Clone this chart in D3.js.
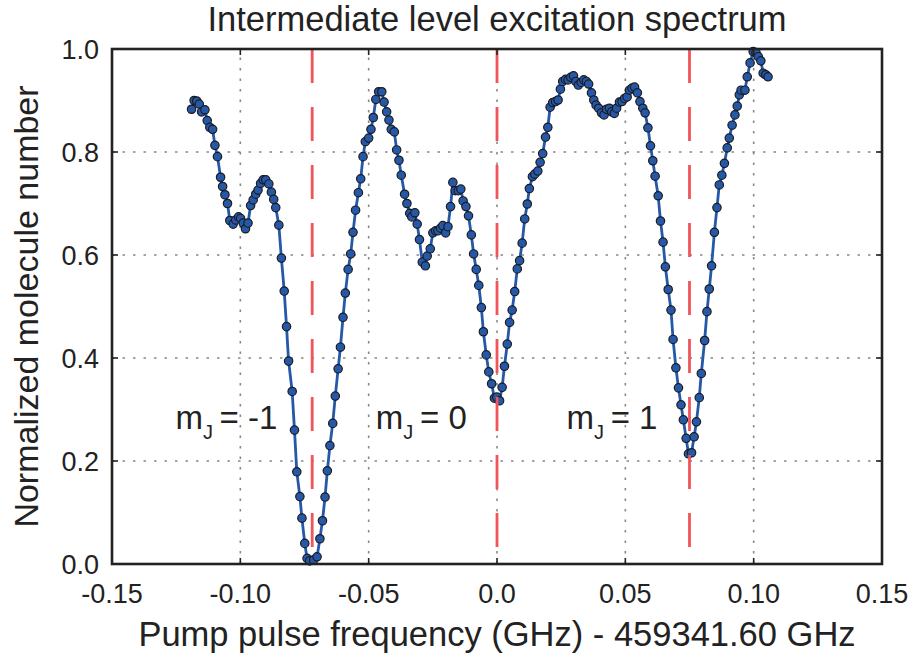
<!DOCTYPE html>
<html>
<head>
<meta charset="utf-8" />
<title>Intermediate level excitation spectrum</title>
<style>
  body { margin: 0; background: #fff; }
  text { font-family: "Liberation Sans", Arial, Helvetica, sans-serif; fill: #222; }
</style>
</head>
<body>
<div id="chart"></div>
<script src="https://d3js.org/d3.v7.min.js"></script>
<script>
// pump frequency offset (GHz)
var freq = [
  -0.1190, -0.1180, -0.1170, -0.1160, -0.1151, -0.1138, -0.1129, -0.1119, -0.1108, -0.1099,
  -0.1089, -0.1077, -0.1069, -0.1060, -0.1050, -0.1041, -0.1028, -0.1018, -0.1007, -0.0999,
  -0.0989, -0.0980, -0.0970, -0.0960, -0.0950, -0.0940, -0.0931, -0.0921, -0.0911, -0.0901,
  -0.0889, -0.0879, -0.0870, -0.0862, -0.0850, -0.0840, -0.0829, -0.0820, -0.0812, -0.0798,
  -0.0789, -0.0780, -0.0768, -0.0760, -0.0749, -0.0740, -0.0730, -0.0714, -0.0701, -0.0690,
  -0.0680, -0.0670, -0.0661, -0.0651, -0.0640, -0.0630, -0.0619, -0.0610, -0.0600, -0.0591,
  -0.0580, -0.0570, -0.0561, -0.0551, -0.0540, -0.0531, -0.0522, -0.0513, -0.0500, -0.0491,
  -0.0482, -0.0472, -0.0461, -0.0449, -0.0440, -0.0430, -0.0421, -0.0412, -0.0400, -0.0391,
  -0.0382, -0.0373, -0.0360, -0.0351, -0.0340, -0.0332, -0.0320, -0.0311, -0.0302, -0.0291,
  -0.0279, -0.0272, -0.0260, -0.0250, -0.0239, -0.0230, -0.0220, -0.0211, -0.0200, -0.0191,
  -0.0181, -0.0172, -0.0163, -0.0151, -0.0141, -0.0132, -0.0121, -0.0111, -0.0100, -0.0091,
  -0.0081, -0.0071, -0.0061, -0.0053, -0.0042, -0.0032, -0.0021, -0.0010, -0.0001, 0.0010,
  0.0020, 0.0029, 0.0040, 0.0049, 0.0059, 0.0069, 0.0079, 0.0088, 0.0098, 0.0108,
  0.0118, 0.0126, 0.0138, 0.0147, 0.0159, 0.0168, 0.0178, 0.0189, 0.0198, 0.0207,
  0.0217, 0.0228, 0.0238, 0.0247, 0.0256, 0.0267, 0.0277, 0.0287, 0.0298, 0.0307,
  0.0317, 0.0328, 0.0338, 0.0348, 0.0357, 0.0368, 0.0377, 0.0386, 0.0396, 0.0407,
  0.0417, 0.0427, 0.0438, 0.0447, 0.0457, 0.0466, 0.0477, 0.0487, 0.0497, 0.0507,
  0.0516, 0.0526, 0.0536, 0.0547, 0.0557, 0.0568, 0.0577, 0.0588, 0.0598, 0.0607,
  0.0616, 0.0628, 0.0637, 0.0647, 0.0656, 0.0667, 0.0678, 0.0686, 0.0697, 0.0707,
  0.0717, 0.0726, 0.0737, 0.0746, 0.0758, 0.0768, 0.0777, 0.0788, 0.0796, 0.0809,
  0.0818, 0.0827, 0.0836, 0.0847, 0.0857, 0.0866, 0.0876, 0.0886, 0.0897, 0.0905,
  0.0916, 0.0927, 0.0936, 0.0944, 0.0951, 0.0966, 0.0975, 0.0986, 0.0998, 0.1009,
  0.1018, 0.1028, 0.1037, 0.1047, 0.1056
];
// normalized molecule number at each frequency
var signal = [
  0.883, 0.900, 0.899, 0.893, 0.878, 0.882, 0.861, 0.848, 0.844, 0.813,
  0.791, 0.751, 0.733, 0.717, 0.700, 0.667, 0.660, 0.668, 0.674, 0.671,
  0.662, 0.651, 0.662, 0.696, 0.707, 0.718, 0.726, 0.739, 0.746, 0.746,
  0.738, 0.722, 0.708, 0.692, 0.658, 0.594, 0.530, 0.461, 0.394, 0.335,
  0.260, 0.179, 0.131, 0.089, 0.040, 0.011, 0.006, 0.008, 0.014, 0.049,
  0.084, 0.130, 0.181, 0.230, 0.273, 0.326, 0.379, 0.421, 0.479, 0.526,
  0.572, 0.602, 0.644, 0.687, 0.721, 0.748, 0.791, 0.820, 0.827, 0.844,
  0.867, 0.902, 0.917, 0.917, 0.897, 0.878, 0.862, 0.844, 0.839, 0.804,
  0.784, 0.755, 0.718, 0.700, 0.681, 0.674, 0.682, 0.660, 0.630, 0.586,
  0.579, 0.598, 0.612, 0.643, 0.647, 0.647, 0.652, 0.657, 0.643, 0.655,
  0.694, 0.741, 0.725, 0.725, 0.728, 0.705, 0.694, 0.676, 0.639, 0.602,
  0.572, 0.541, 0.498, 0.451, 0.406, 0.373, 0.350, 0.322, 0.324, 0.317,
  0.343, 0.384, 0.427, 0.469, 0.493, 0.529, 0.573, 0.589, 0.623, 0.670,
  0.699, 0.729, 0.752, 0.757, 0.763, 0.780, 0.797, 0.829, 0.848, 0.887,
  0.896, 0.898, 0.901, 0.922, 0.937, 0.941, 0.940, 0.945, 0.948, 0.937,
  0.930, 0.935, 0.940, 0.937, 0.932, 0.915, 0.901, 0.891, 0.885, 0.876,
  0.872, 0.883, 0.885, 0.878, 0.875, 0.885, 0.897, 0.898, 0.904, 0.907,
  0.920, 0.924, 0.926, 0.915, 0.898, 0.885, 0.876, 0.847, 0.812, 0.783,
  0.753, 0.715, 0.666, 0.625, 0.577, 0.533, 0.493, 0.436, 0.381, 0.342,
  0.309, 0.280, 0.244, 0.214, 0.216, 0.247, 0.276, 0.323, 0.370, 0.434,
  0.490, 0.534, 0.579, 0.644, 0.692, 0.736, 0.755, 0.778, 0.808, 0.827,
  0.852, 0.872, 0.889, 0.911, 0.920, 0.920, 0.946, 0.973, 0.995, 0.993,
  0.985, 0.977, 0.953, 0.950, 0.946
];
var xTicks = [-0.15, -0.10, -0.05, 0.0, 0.05, 0.10, 0.15];
var xTickLabels = ['-0.15', '-0.10', '-0.05', '0.0', '0.05', '0.10', '0.15'];
var yTicks = [0.0, 0.2, 0.4, 0.6, 0.8, 1.0];
var yTickLabels = ['0.0', '0.2', '0.4', '0.6', '0.8', '1.0'];
// expected resonance positions for each m_J
var resonances = [-0.072, 0.0, 0.075];
var mjLabels = ['-1', '0', '1'];
var mjLabelX = [-0.1253, -0.0472, 0.0271];
var mjLabelY = [0.272, 0.272, 0.272];

var width = 913;
var height = 661;
var margin = { top: 49, right: 31, bottom: 97, left: 112 };

var svg = d3.select('#chart')
  .append('svg')
  .attr('width', width)
  .attr('height', height);

var x = d3.scaleLinear().domain([-0.15, 0.15]).range([margin.left, width - margin.right]);
var y = d3.scaleLinear().domain([0, 1]).range([height - margin.bottom, margin.top]);

// dotted grid
var grid = svg.append('g');
grid.selectAll('.vgrid')
  .data(xTicks.slice(1, -1))
  .enter().append('line')
  .attr('x1', function(d) { return x(d); })
  .attr('x2', function(d) { return x(d); })
  .attr('y1', y(0)).attr('y2', y(1))
  .attr('stroke', '#888').attr('stroke-width', 1.6)
  .attr('stroke-dasharray', '2.5,8');
grid.selectAll('.hgrid')
  .data(yTicks.slice(1, -1))
  .enter().append('line')
  .attr('y1', function(d) { return y(d); })
  .attr('y2', function(d) { return y(d); })
  .attr('x1', x(-0.15)).attr('x2', x(0.15))
  .attr('stroke', '#888').attr('stroke-width', 1.6)
  .attr('stroke-dasharray', '2.5,8');

// data line + markers
var points = freq.map(function(f, i) { return { f: f, s: signal[i] }; });
var line = d3.line()
  .x(function(d) { return x(d.f); })
  .y(function(d) { return y(d.s); });

svg.append('path')
  .datum(points)
  .attr('d', line)
  .attr('fill', 'none')
  .attr('stroke', '#2458a8')
  .attr('stroke-width', 2.8)
  .attr('stroke-linejoin', 'round');

svg.append('g')
  .selectAll('circle')
  .data(points)
  .enter().append('circle')
  .attr('cx', function(d) { return x(d.f); })
  .attr('cy', function(d) { return y(d.s); })
  .attr('r', 4.2)
  .attr('fill', '#2559a8')
  .attr('stroke', '#1b1b22')
  .attr('stroke-width', 1.2);

// red dashed resonance markers
svg.append('g')
  .selectAll('line')
  .data(resonances)
  .enter().append('line')
  .attr('x1', function(d) { return x(d); })
  .attr('x2', function(d) { return x(d); })
  .attr('y1', y(1)).attr('y2', y(0))
  .attr('stroke', '#f0555a')
  .attr('stroke-width', 2.8)
  .attr('stroke-dasharray', '34,24');

// frame
svg.append('rect')
  .attr('x', x(-0.15)).attr('y', y(1))
  .attr('width', x(0.15) - x(-0.15))
  .attr('height', y(0) - y(1))
  .attr('fill', 'none')
  .attr('stroke', '#222')
  .attr('stroke-width', 2.6);

// inward ticks on all four sides
var tickLen = 6;
var ticks = svg.append('g').attr('stroke', '#222').attr('stroke-width', 1.6);
xTicks.forEach(function(t) {
  ticks.append('line').attr('x1', x(t)).attr('x2', x(t)).attr('y1', y(0)).attr('y2', y(0) - tickLen);
  ticks.append('line').attr('x1', x(t)).attr('x2', x(t)).attr('y1', y(1)).attr('y2', y(1) + tickLen);
});
yTicks.forEach(function(t) {
  ticks.append('line').attr('y1', y(t)).attr('y2', y(t)).attr('x1', x(-0.15)).attr('x2', x(-0.15) + tickLen);
  ticks.append('line').attr('y1', y(t)).attr('y2', y(t)).attr('x1', x(0.15)).attr('x2', x(0.15) - tickLen);
});

// tick labels
svg.append('g')
  .selectAll('text')
  .data(xTicks)
  .enter().append('text')
  .attr('x', function(d) { return x(d); })
  .attr('y', y(0) + 39)
  .attr('text-anchor', 'middle')
  .style('font-size', '27px')
  .text(function(d, i) { return xTickLabels[i]; });

svg.append('g')
  .selectAll('text')
  .data(yTicks)
  .enter().append('text')
  .attr('x', x(-0.15) - 13)
  .attr('y', function(d) { return y(d) + 10; })
  .attr('text-anchor', 'end')
  .style('font-size', '27px')
  .text(function(d, i) { return yTickLabels[i]; });

// m_J annotations
mjLabels.forEach(function(lab, i) {
  var t = svg.append('text')
    .attr('x', x(mjLabelX[i]))
    .attr('y', y(mjLabelY[i]) + 5)
    .style('font-size', '33px');
  t.append('tspan').text('m');
  t.append('tspan').attr('dy', 10).style('font-size', '20px').text('J');
  t.append('tspan').attr('dy', -10).text('\u2009= ' + lab);
});

// titles
svg.append('text')
  .attr('x', (x(-0.15) + x(0.15)) / 2)
  .attr('y', 31)
  .attr('text-anchor', 'middle')
  .style('font-size', '34.5px')
  .text('Intermediate level excitation spectrum');

svg.append('text')
  .attr('x', (x(-0.15) + x(0.15)) / 2)
  .attr('y', 646)
  .attr('text-anchor', 'middle')
  .style('font-size', '34.5px')
  .text('Pump pulse frequency (GHz) - 459341.60 GHz');

svg.append('text')
  .attr('transform', 'translate(38,' + ((y(0) + y(1)) / 2) + ') rotate(-90)')
  .attr('text-anchor', 'middle')
  .style('font-size', '34px')
  .text('Normalized molecule number');
</script>
</body>
</html>
